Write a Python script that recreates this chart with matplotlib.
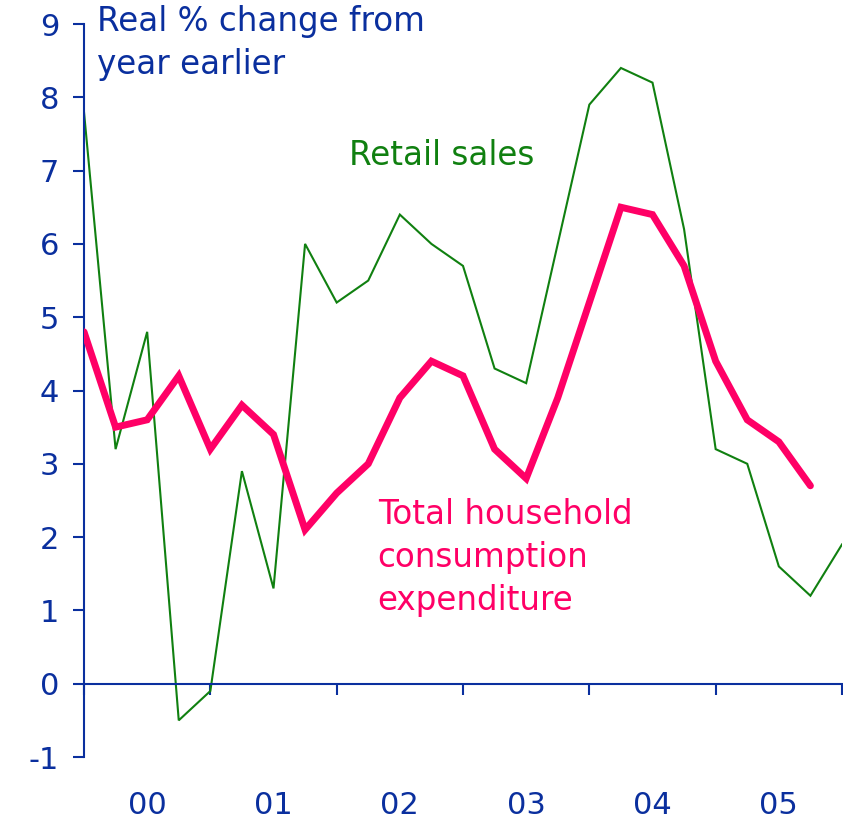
import numpy as np
import matplotlib
matplotlib.use("Agg")
import matplotlib.pyplot as plt

# quarterly observations, annual % change (real)
retail_sales = [7.8, 3.2, 4.8, -0.5, -0.1, 2.9, 1.3, 6.0, 5.2, 5.5, 6.4, 6.0, 5.7,
                4.3, 4.1, 6.0, 7.9, 8.4, 8.2, 6.2, 3.2, 3.0, 1.6, 1.2, 1.9]
household_consumption = [4.8, 3.5, 3.6, 4.2, 3.2, 3.8, 3.4, 2.1, 2.6, 3.0, 3.9, 4.4,
                         4.2, 3.2, 2.8, 3.9, 5.2, 6.5, 6.4, 5.7, 4.4, 3.6, 3.3, 2.7]
year_labels = ["00", "01", "02", "03", "04", "05"]
y_ticks = list(range(-1, 10))

NAVY = "#0a2f9e"
GREEN = "#108010"
PINK = "#ff0066"
FS = 23.5

plt.rcParams.update({"font.family": "DejaVu Sans"})
fig = plt.figure(figsize=(8.43, 8.22), dpi=100)
ax = fig.add_axes([84 / 843, 65 / 822, 758 / 843, 733 / 822])

x_retail = np.arange(len(retail_sales))
x_cons = np.arange(len(household_consumption))

ax.plot(x_retail, retail_sales, color=GREEN, lw=1.5, solid_joinstyle="miter")
ax.plot(x_cons, household_consumption, color=PINK, lw=5, solid_capstyle="round",
        solid_joinstyle="miter", zorder=3)

ax.set_xlim(0, 24)
ax.set_ylim(-1, 9)

for side in ["top", "right"]:
    ax.spines[side].set_visible(False)
ax.spines["left"].set_color(NAVY)
ax.spines["left"].set_linewidth(1.5)
ax.spines["bottom"].set_position(("data", 0))
ax.spines["bottom"].set_color(NAVY)
ax.spines["bottom"].set_linewidth(1.5)

ax.set_yticks(y_ticks)
ax.set_yticklabels([str(v) for v in y_ticks])
ax.tick_params(axis="y", direction="out", length=8, width=1.5, color=NAVY,
               labelcolor=NAVY, labelsize=22, pad=10)

n_years = len(year_labels)
ax.set_xticks(np.arange(0, 4 * n_years + 1, 4))
ax.set_xticklabels([])
ax.set_xticks(np.arange(2, 4 * n_years, 4), minor=True)
ax.set_xticklabels(year_labels, minor=True)
ax.tick_params(axis="x", which="major", direction="out", length=8, width=1.5, color=NAVY)
ax.tick_params(axis="x", which="minor", length=0, labelcolor=NAVY, labelsize=22, pad=77)

fig.text(97 / 843, 1 - 5 / 822, "Real % change from\nyear earlier", color=NAVY,
         fontsize=FS, ha="left", va="top", linespacing=1.38)
ax.text(8.4, 7.2, "Retail sales", color=GREEN, fontsize=FS, ha="left", va="center")
ax.text(9.3, 2.53, "Total household\nconsumption\nexpenditure", color=PINK, fontsize=FS,
        ha="left", va="top", linespacing=1.38)

fig.savefig("out.png", dpi=100)
